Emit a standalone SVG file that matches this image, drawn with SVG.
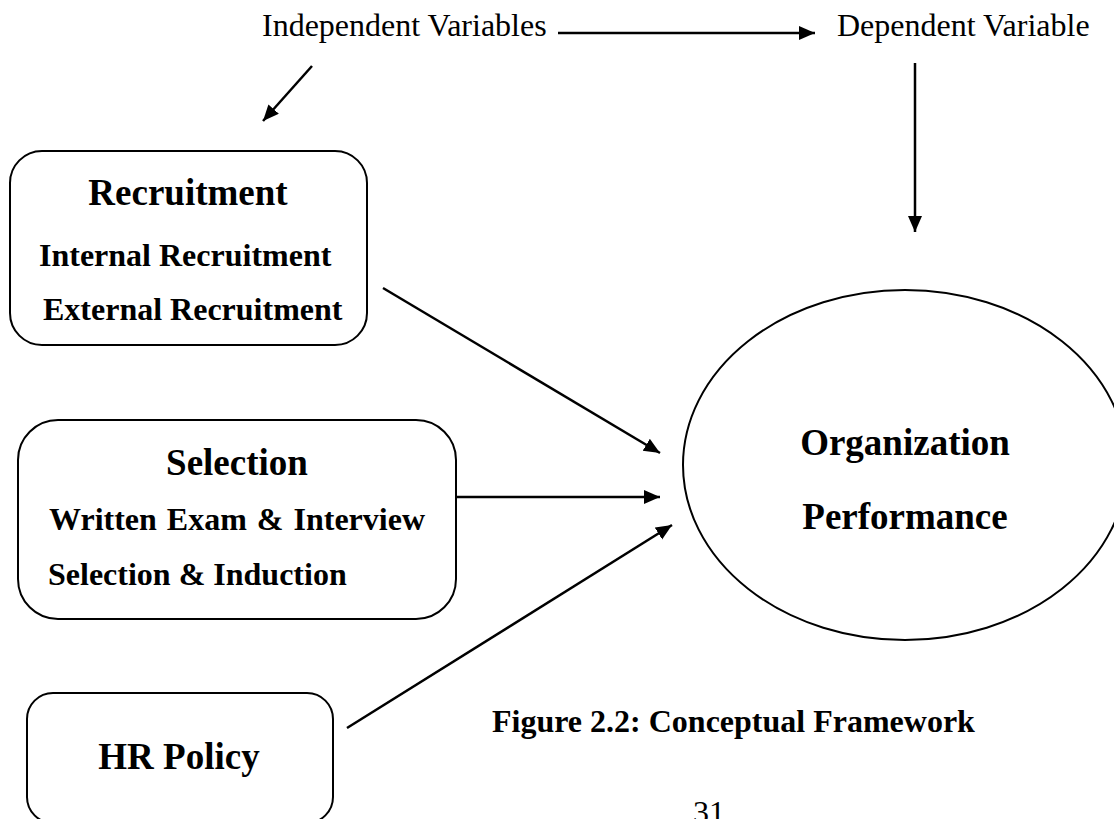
<svg xmlns="http://www.w3.org/2000/svg" width="1114" height="819" viewBox="0 0 1114 819">
  <style>
    .box { fill: #ffffff; stroke: #000000; stroke-width: 2; }
    .oval { fill: #ffffff; stroke: #000000; stroke-width: 2; }
    .link { stroke: #000000; stroke-width: 2.5; fill: none; marker-end: url(#head); }
    .plain { font-family: "Liberation Serif", "Times New Roman", serif; font-size: 32px; fill: #000000; }
    .title { font-family: "Liberation Serif", "Times New Roman", serif; font-size: 37px; font-weight: bold; fill: #000000; text-anchor: middle; }
    .item { font-family: "Liberation Serif", "Times New Roman", serif; font-size: 32px; font-weight: bold; fill: #000000; }
  </style>
  <defs>
    <marker id="head" markerUnits="userSpaceOnUse" markerWidth="17" markerHeight="15" refX="16" refY="7" orient="auto">
      <path d="M0,0 L16,7 L0,14 Z" fill="#000000"/>
    </marker>
  </defs>

  <rect width="1114" height="819" fill="#ffffff"/>

  <!-- header labels -->
  <g id="label-independent">
    <text class="plain" x="262" y="36">Independent Variables</text>
  </g>
  <g id="label-dependent">
    <text class="plain" x="837" y="36">Dependent Variable</text>
  </g>

  <!-- connectors -->
  <g id="connectors">
    <line class="link" x1="558" y1="33" x2="815" y2="33"/>
    <line class="link" x1="312" y1="66" x2="263" y2="121"/>
    <line class="link" x1="915" y1="63" x2="915" y2="232"/>
    <line class="link" x1="383" y1="288" x2="660" y2="453"/>
    <line class="link" x1="456" y1="497" x2="660" y2="497"/>
    <line class="link" x1="347" y1="728" x2="672" y2="525"/>
  </g>

  <g id="recruitment">
    <rect class="box" x="10" y="151" width="357" height="194" rx="32" ry="32"/>
    <text class="title" x="188" y="205">Recruitment</text>
    <text class="item" x="39" y="266">Internal Recruitment</text>
    <text class="item" x="43" y="320">External Recruitment</text>
  </g>

  <g id="selection">
    <rect class="box" x="18" y="420" width="438" height="199" rx="40" ry="40"/>
    <text class="title" x="237" y="475">Selection</text>
    <text class="item" x="49" y="530" word-spacing="2">Written Exam &amp; Interview</text>
    <text class="item" x="48" y="585">Selection &amp; Induction</text>
  </g>

  <g id="hr-policy">
    <rect class="box" x="27" y="693" width="306" height="130" rx="26" ry="26"/>
    <text class="title" x="179" y="769">HR Policy</text>
  </g>

  <g id="organization-performance">
    <ellipse class="oval" cx="905" cy="465" rx="222" ry="175"/>
    <text class="title" x="905" y="455">Organization</text>
    <text class="title" x="905" y="529">Performance</text>
  </g>

  <g id="caption">
    <text class="item" x="492" y="732">Figure 2.2: Conceptual Framework</text>
  </g>

  <g id="page-number">
    <text class="plain" x="693" y="823">31</text>
  </g>
</svg>
